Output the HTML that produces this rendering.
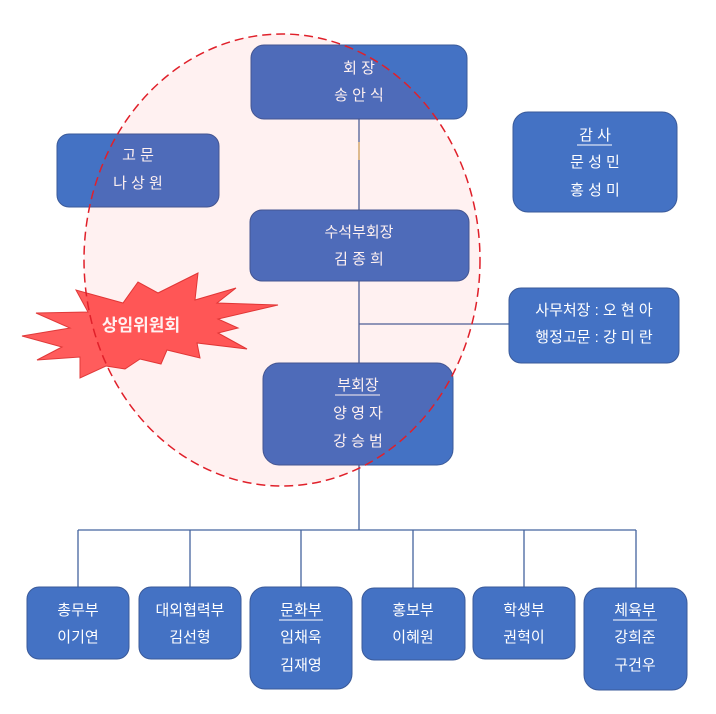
<!DOCTYPE html>
<html><head><meta charset="utf-8"><style>
html,body{margin:0;padding:0;background:#fff;}
svg{display:block;}
text{font-family:"Liberation Sans","Noto Sans CJK KR",sans-serif;fill:#fff;font-size:15px;text-anchor:middle;}
</style></head><body>
<svg width="716" height="714" viewBox="0 0 716 714" xmlns="http://www.w3.org/2000/svg">
<g stroke="#45649f" stroke-width="1.3" fill="none">
<line x1="359" y1="119" x2="359" y2="210"/>
<line x1="359" y1="281" x2="359" y2="363"/>
<line x1="359" y1="324" x2="509" y2="324"/>
<line x1="359" y1="465" x2="359" y2="530"/>
<line x1="78" y1="530" x2="636" y2="530"/>
<line x1="78" y1="530" x2="78" y2="587"/>
<line x1="190" y1="530" x2="190" y2="587"/>
<line x1="301" y1="530" x2="301" y2="587"/>
<line x1="413" y1="530" x2="413" y2="588"/>
<line x1="524" y1="530" x2="524" y2="587"/>
<line x1="636" y1="530" x2="636" y2="588"/>
</g>
<line x1="359" y1="142" x2="359" y2="160" stroke="#e8c070" stroke-width="1.3"/>
<g fill="#4472c4" stroke="#3a5a9a" stroke-width="1">
<rect x="251" y="45" width="216" height="74" rx="13"/>
<rect x="57" y="134" width="162" height="73" rx="12"/>
<rect x="250" y="210" width="219" height="71" rx="12"/>
<rect x="263" y="363" width="190" height="102" rx="16"/>
<rect x="513" y="112" width="164" height="100" rx="15"/>
<rect x="509" y="288" width="170" height="75" rx="12"/>
<rect x="27" y="587" width="102" height="72" rx="12"/>
<rect x="139" y="587" width="102" height="72" rx="12"/>
<rect x="250" y="587" width="102" height="102" rx="15"/>
<rect x="362" y="588" width="103" height="72" rx="12"/>
<rect x="473" y="587" width="102" height="72" rx="12"/>
<rect x="584" y="588" width="103" height="102" rx="15"/>
</g>
<polygon fill="#ff5c5c" stroke="#e03a3a" stroke-width="1" points="22,336 62,347 37,360 80,357 80,378 106,366 125,369 140,359 161,364 167,350 200,358 197,343 247,349 218,333 238,328 218,319 278,305 217,303 236,288 195,300 198,273 158,293 138,282 123,303 76,290 88,312 36,313 70,328"/>
<text x="141" y="331" style="font-size:17px;font-weight:bold;">상임위원회</text>
<text x="359" y="73">회 장</text>
<text x="359" y="100">송 안 식</text>
<text x="138" y="160">고 문</text>
<text x="138" y="188">나 상 원</text>
<text x="359" y="237">수석부회장</text>
<text x="359" y="264">김 종 희</text>
<text x="358" y="390">부회장</text>
<line x1="335" y1="395" x2="380" y2="395" stroke="#fff" stroke-width="1"/>
<text x="358" y="418">양 영 자</text>
<text x="358" y="446">강 승 범</text>
<text x="595" y="140">감 사</text>
<line x1="577" y1="145" x2="612" y2="145" stroke="#fff" stroke-width="1"/>
<text x="595" y="167">문 성 민</text>
<text x="595" y="195">홍 성 미</text>
<text x="594" y="315">사무처장 : 오 현 아</text>
<text x="594" y="342">행정고문 : 강 미 란</text>
<text x="78" y="615">총무부</text>
<text x="78" y="642">이기연</text>
<text x="190" y="615">대외협력부</text>
<text x="190" y="642">김선형</text>
<text x="301" y="615">문화부</text>
<line x1="279" y1="620" x2="323" y2="620" stroke="#fff" stroke-width="1"/>
<text x="301" y="642">임채욱</text>
<text x="301" y="670">김재영</text>
<text x="413" y="615">홍보부</text>
<text x="413" y="642">이혜원</text>
<text x="524" y="615">학생부</text>
<text x="524" y="642">권혁이</text>
<text x="635" y="615">체육부</text>
<line x1="613" y1="620" x2="657" y2="620" stroke="#fff" stroke-width="1"/>
<text x="635" y="642">강희준</text>
<text x="635" y="670">구건우</text>
<ellipse cx="282" cy="260" rx="198" ry="226" fill="rgba(255,0,0,0.055)" stroke="#e0202a" stroke-width="1.5" stroke-dasharray="9,5"/>
</svg>
</body></html>
